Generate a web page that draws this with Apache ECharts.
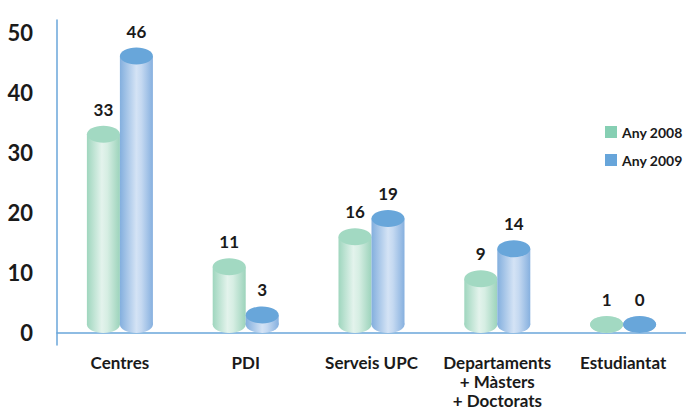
<!DOCTYPE html>
<html>
<head>
<meta charset="utf-8">
<script src="https://cdn.jsdelivr.net/npm/echarts@6/dist/echarts.min.js"></script>
<style>
html,body{margin:0;padding:0;background:#fff;}
#chart{width:686px;height:417px;}
</style>
</head>
<body>
<div id="chart"></div>
<script>
const categories = ['Centres', 'PDI', 'Serveis UPC', 'Departaments\n+ Màsters\n+ Doctorats', 'Estudiantat'];
const series2008 = [33, 11, 16, 9, 1];
const series2009 = [46, 3, 19, 14, 0];
const yTicks = [0, 10, 20, 30, 40, 50];

const FONT = 'Lato, "Open Sans", sans-serif';
const BAR_W = 33;
const RY = 8.5;

const styles = [
  {
    legend: '#86cfb3',
    top: '#a2d9c2',
    body: [[0, '#9fd6be'], [0.45, '#e3f3ec'], [0.62, '#d6eee3'], [1, '#9cd3bb']]
  },
  {
    legend: '#67a5da',
    top: '#68a6da',
    body: [[0, '#83afde'], [0.5, '#d4e3f5'], [0.65, '#c5d9f1'], [1, '#86b0df']]
  }
];

function grad(stops) {
  return new echarts.graphic.LinearGradient(0, 0, 1, 0,
    stops.map(s => ({offset: s[0], color: s[1]})));
}

function makeRender(sIdx) {
  return function (params, api) {
    const cat = api.value(0);
    const val = api.value(1);
    const pt = api.coord([cat, val]);
    const base = api.coord([cat, 0]);
    const cx = pt[0] + (sIdx === 0 ? -BAR_W / 2 : BAR_W / 2);
    const y0 = base[1];
    const yTop = Math.min(pt[1], y0 - RY);
    const yBot = y0 - RY;
    const st = styles[sIdx];
    const g = grad(st.body);
    return {
      type: 'group',
      children: [
        {
          type: 'ellipse',
          shape: {cx: cx, cy: yBot, rx: BAR_W / 2, ry: RY},
          style: {fill: g}
        },
        {
          type: 'rect',
          shape: {x: cx - BAR_W / 2, y: yTop, width: BAR_W, height: Math.max(0, yBot - yTop)},
          style: {fill: g}
        },
        {
          type: 'ellipse',
          shape: {cx: cx, cy: yTop, rx: BAR_W / 2, ry: RY},
          style: {fill: st.top}
        },
        {
          type: 'text',
          x: cx,
          y: yTop - 25,
          style: {
            text: String(val),
            fill: '#1a1a1a',
            font: 'bold 17px ' + FONT,
            align: 'center',
            verticalAlign: 'middle'
          }
        }
      ]
    };
  };
}

const chart = echarts.init(document.getElementById('chart'), null, {renderer: 'svg'});
chart.setOption({
  animation: false,
  backgroundColor: '#fff',
  grid: {left: 57, right: 0, top: 20, bottom: 72, containLabel: false},
  legend: {
    orient: 'vertical',
    left: 600,
    top: 120,
    itemWidth: 12,
    itemHeight: 12,
    itemGap: 14,
    icon: 'rect',
    textStyle: {fontFamily: FONT, fontWeight: 'bold', fontSize: 14, color: '#1a1a1a'},
    data: ['Any 2008', 'Any 2009']
  },
  xAxis: {
    type: 'category',
    data: categories,
    axisLine: {onZero: true, lineStyle: {color: '#6aa6da', width: 1.5}},
    axisTick: {show: false},
    axisLabel: {
      interval: 0,
      margin: 8,
      fontFamily: FONT,
      fontWeight: 'bold',
      fontSize: 17,
      lineHeight: 19,
      color: '#1a1a1a',
      verticalAlign: 'top'
    }
  },
  yAxis: {
    type: 'value',
    min: -2,
    max: 52,
    axisLine: {show: true, lineStyle: {color: '#6aa6da', width: 1.5}},
    axisTick: {show: false, customValues: yTicks},
    splitLine: {show: false},
    axisLabel: {
      customValues: yTicks,
      margin: 24,
      fontFamily: FONT,
      fontWeight: 'bold',
      fontSize: 22,
      color: '#1a1a1a'
    }
  },
  series: [
    {
      name: 'Any 2008',
      type: 'custom',
      itemStyle: {color: styles[0].legend},
      renderItem: makeRender(0),
      encode: {x: 0, y: 1},
      data: series2008.map((v, i) => [i, v])
    },
    {
      name: 'Any 2009',
      type: 'custom',
      itemStyle: {color: styles[1].legend},
      renderItem: makeRender(1),
      encode: {x: 0, y: 1},
      data: series2009.map((v, i) => [i, v])
    }
  ]
});
</script>
</body>
</html>
